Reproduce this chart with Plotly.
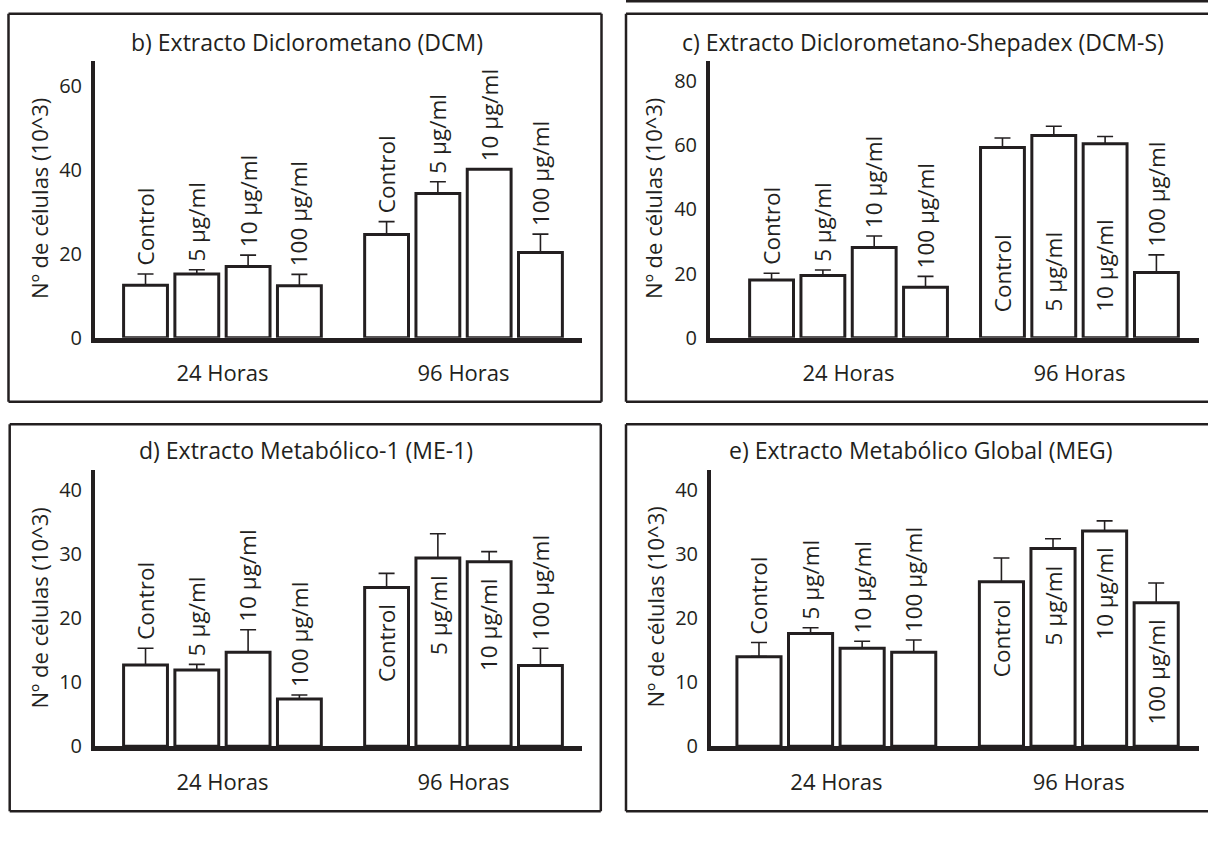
import plotly.graph_objects as go

W, H = 1208, 842
INK = "#231f20"
FONT = "Open Sans"

# ---------------- data ----------------
group_labels = ["24 Horas", "96 Horas"]
treatments = ["Control", "5 µg/ml", "10 µg/ml", "100 µg/ml"]

panel_titles = [
    "b) Extracto Diclorometano (DCM)",
    "c) Extracto Diclorometano-Shepadex (DCM-S)",
    "d) Extracto Metabólico-1 (ME-1)",
    "e) Extracto Metabólico Global (MEG)",
]
y_title = "Nº de células (10^3)"

# order: 24h Control, 5, 10, 100 | 96h Control, 5, 10, 100
dcm_mean = [12.5, 15.2, 17.0, 12.4, 24.6, 34.4, 40.2, 20.3]
dcm_err = [2.7, 1.0, 2.7, 2.7, 3.1, 2.8, 0.0, 4.4]

dcms_mean = [18.0, 19.4, 28.1, 15.7, 59.3, 63.0, 60.4, 20.3]
dcms_err = [2.1, 1.7, 3.6, 3.4, 2.9, 2.9, 2.3, 5.5]

me1_mean = [12.7, 11.9, 14.7, 7.4, 24.8, 29.4, 28.8, 12.6]
me1_err = [2.6, 0.9, 3.5, 0.6, 2.2, 3.8, 1.6, 2.7]

meg_mean = [14.0, 17.6, 15.3, 14.7, 25.7, 30.9, 33.6, 22.4]
meg_err = [2.2, 0.9, 1.1, 1.9, 3.7, 1.5, 1.6, 3.1]

y_ticks_b = [0, 20, 40, 60]
y_ticks_c = [0, 20, 40, 60, 80]
y_ticks_d = [0, 10, 20, 30, 40]
y_ticks_e = [0, 10, 20, 30, 40]

# ---------------- layout / style (pixels) ----------------
panels = [
    dict(mean=dcm_mean, err=dcm_err, ticks=y_ticks_b, ymax=66.0,
         place=["out"] * 8,
         frame=(8.5, 14, 601.5, 408), open_right=False,
         plot=(95, 62, 582, 343),
         xr=(-0.985, 8.51), gap=1.7,
         title=(307, 43), ytitle=(39, 202)),
    dict(mean=dcms_mean, err=dcms_err, ticks=y_ticks_c, ymax=86.2,
         place=["out"] * 4 + ["base", "base", "base", "out"],
         frame=(626, 14, 1208, 408), open_right=True,
         plot=(710, 62, 1199, 343),
         xr=(-1.2, 8.33), gap=1.5,
         title=(923, 43), ytitle=(653, 202)),
    dict(mean=me1_mean, err=me1_err, ticks=y_ticks_d, ymax=43.2,
         place=["out"] * 4 + ["top", "top", "top", "out"],
         frame=(9.7, 431, 600.8, 824), open_right=False,
         plot=(95, 477, 582, 758),
         xr=(-0.985, 8.51), gap=1.7,
         title=(306, 457), ytitle=(39, 618)),
    dict(mean=meg_mean, err=meg_err, ticks=y_ticks_e, ymax=43.2,
         place=["out"] * 4 + ["top"] * 4,
         frame=(626, 431, 1208, 824), open_right=True,
         plot=(711, 477, 1199, 758),
         xr=(-0.93, 8.53), gap=1.7,
         title=(921, 457), ytitle=(655, 617)),
]


def px(x):
    return x / W


def py(y):
    return 1 - y / H


def line(x0, y0, x1, y1, w=2.5):
    return dict(type="line", xref="paper", yref="paper",
                x0=px(x0), x1=px(x1), y0=py(y0), y1=py(y1),
                line=dict(color=INK, width=w))


fig = go.Figure()
annotations = []
shapes = []
layout = {}

for k, p in enumerate(panels, start=1):
    xs = "" if k == 1 else str(k)
    xname, yname = "x" + xs, "y" + xs
    labels = [f"{g}|{t}" for g in group_labels for t in treatments]
    npg = len(treatments)
    pos = [gi * (npg - 1 + p["gap"]) + ti
           for gi in range(len(group_labels)) for ti in range(npg)]

    fig.add_trace(go.Bar(
        x=pos, y=p["mean"], width=0.855,
        marker=dict(color="white", line=dict(color=INK, width=3)),
        error_y=dict(type="data", array=p["err"], symmetric=False,
                     arrayminus=[0] * len(p["err"]),
                     color=INK, thickness=1.6, width=8),
        hovertext=labels, hoverinfo="text+y", showlegend=False,
        xaxis=xname, yaxis=yname,
    ))

    L, T, R, B = p["plot"]
    gcenters = [sum(pos[gi * npg:(gi + 1) * npg]) / npg
                for gi in range(len(group_labels))]
    layout["xaxis" + xs] = dict(
        domain=[px(L), px(R)], range=list(p["xr"]), anchor=yname,
        tickvals=gcenters, ticktext=group_labels,
        showline=True, linewidth=5, linecolor=INK,
        ticks="outside", ticklen=12, tickcolor="rgba(0,0,0,0)",
        tickfont=dict(family=FONT, size=22, color=INK),
        showgrid=False, zeroline=False, fixedrange=True,
    )
    layout["yaxis" + xs] = dict(
        domain=[py(B), py(T)], range=[0, p["ymax"]], anchor=xname,
        tickvals=p["ticks"],
        showline=True, linewidth=4, linecolor=INK,
        ticks="outside", ticklen=5, tickcolor="rgba(0,0,0,0)",
        tickfont=dict(family=FONT, size=20, color=INK),
        showgrid=False, zeroline=False, fixedrange=True,
    )

    # bar labels
    for i, (m, e) in enumerate(zip(p["mean"], p["err"])):
        t = treatments[i % npg]
        mode = p["place"][i]
        if mode == "out":
            yv, ya, ysh = m + e, "bottom", 6
        elif mode == "top":
            yv, ya, ysh = m, "top", -15
        else:
            yv, ya, ysh = 0, "bottom", 24
        annotations.append(dict(
            x=pos[i], y=yv, xref=xname, yref=yname, text=t,
            textangle=-90, xanchor="center", yanchor=ya, yshift=ysh,
            showarrow=False, font=dict(family=FONT, size=22.5, color=INK),
        ))

    # panel title
    annotations.append(dict(
        x=px(p["title"][0]), y=py(p["title"][1]), xref="paper", yref="paper",
        text=panel_titles[k - 1], showarrow=False, xanchor="center",
        yanchor="middle", font=dict(family=FONT, size=23, color=INK),
    ))
    # y-axis title
    annotations.append(dict(
        x=px(p["ytitle"][0]), y=py(p["ytitle"][1]), xref="paper", yref="paper",
        text=y_title, textangle=-90, showarrow=False, xanchor="center",
        yanchor="middle", font=dict(family=FONT, size=22, color=INK),
    ))

    fx0, fy0, fx1, fy1 = p["frame"]
    shapes.append(line(fx0, fy0, fx0, fy1))   # left
    shapes.append(line(fx0, fy0, fx1, fy0))   # top
    shapes.append(line(fx0, fy1, fx1, fy1))   # bottom
    if not p["open_right"]:
        shapes.append(line(fx1, fy0, fx1, fy1))

# rule line above the right-hand top panel
shapes.append(line(626, 1.2, 1208, 1.2))

fig.update_layout(
    width=W, height=H,
    margin=dict(l=0, r=0, t=0, b=0),
    paper_bgcolor="white", plot_bgcolor="white",
    showlegend=False,
    annotations=annotations, shapes=shapes,
    font=dict(family=FONT, color=INK),
    **layout,
)

fig.write_html(
    "out.html",
    config={"displayModeBar": False},
    post_script="document.body.style.margin='0';document.body.style.overflow='hidden';",
)
